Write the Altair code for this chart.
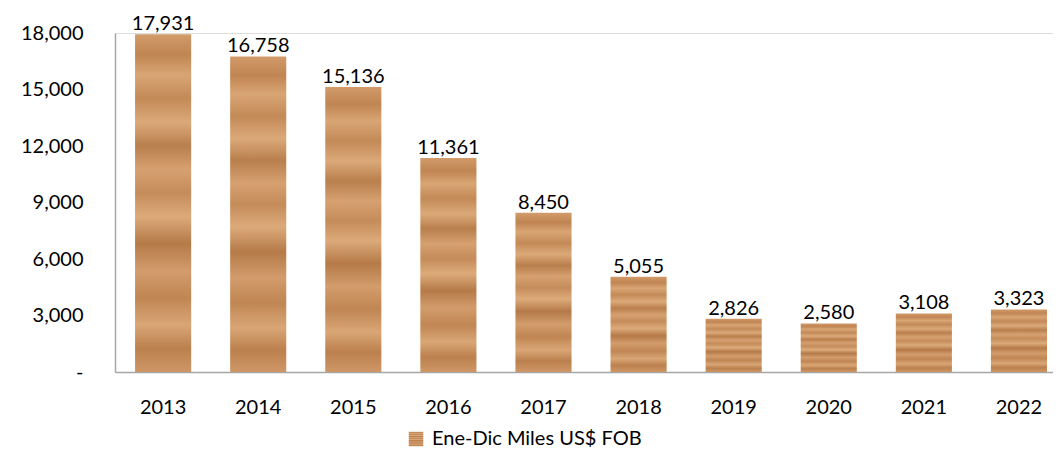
import altair as alt
import pandas as pd

years = ["2013", "2014", "2015", "2016", "2017", "2018", "2019", "2020", "2021", "2022"]
values = [17931, 16758, 15136, 11361, 8450, 5055, 2826, 2580, 3108, 3323]
series = "Ene-Dic Miles US$ FOB"
y_ticks = [0, 3000, 6000, 9000, 12000, 15000, 18000]

df = pd.DataFrame({"year": years, "value": values, "serie": series})

FONT = "Lato"

wood = alt.Gradient(
    gradient="linear",
    x1=0, x2=0, y1=0, y2=1,
    stops=[
        alt.GradientStop(color="#D29B6B", offset=0.0),
        alt.GradientStop(color="#C08552", offset=0.06),
        alt.GradientStop(color="#D8A574", offset=0.12),
        alt.GradientStop(color="#C38A57", offset=0.19),
        alt.GradientStop(color="#DBA979", offset=0.26),
        alt.GradientStop(color="#B97F4D", offset=0.33),
        alt.GradientStop(color="#D6A070", offset=0.40),
        alt.GradientStop(color="#C58C5A", offset=0.47),
        alt.GradientStop(color="#DCAA7A", offset=0.54),
        alt.GradientStop(color="#B57A48", offset=0.62),
        alt.GradientStop(color="#D39C6C", offset=0.70),
        alt.GradientStop(color="#C08653", offset=0.78),
        alt.GradientStop(color="#D9A676", offset=0.86),
        alt.GradientStop(color="#BB804D", offset=0.93),
        alt.GradientStop(color="#CF9767", offset=1.0),
    ],
)

base = alt.Chart(df)

bars = base.mark_bar(color=wood).encode(
    x=alt.X(
        "year:N",
        sort=years,
        title=None,
        scale=alt.Scale(paddingInner=0.41, paddingOuter=0.137, align=0.77),
        axis=alt.Axis(
            labelAngle=0,
            ticks=False,
            domainColor="#A6A6A6",
            domainWidth=1.5,
            labelFontSize=20,
            labelFont=FONT,
            labelColor="#000000",
            labelPadding=25,
        ),
    ),
    y=alt.Y(
        "value:Q",
        title=None,
        scale=alt.Scale(domain=[0, 18000], nice=False),
        axis=alt.Axis(
            values=y_ticks,
            grid=False,
            ticks=False,
            domainColor="#A6A6A6",
            domainWidth=1.5,
            labelFontSize=20,
            labelFont=FONT,
            labelColor="#000000",
            labelPadding=32,
            labelExpr="datum.value == 0 ? '-\u00a0\u00a0\u00a0\u00a0\u00a0' : format(datum.value, ',')",
        ),
    ),
    opacity=alt.Opacity(
        "serie:N",
        scale=alt.Scale(range=[1]),
        legend=alt.Legend(
            title=None,
            orient="none",
            legendX=291,
            legendY=396,
            symbolType="square",
            symbolSize=210,
            symbolStrokeWidth=0,
            symbolOpacity=1,
            labelFontSize=20,
            labelFont=FONT,
            labelColor="#000000",
            labelOffset=6,
            labelLimit=400,
        ),
    ),
)

labels = base.mark_text(
    baseline="alphabetic", dy=-4, fontSize=20, font=FONT, color="#000000"
).encode(
    x=alt.X("year:N", sort=years),
    y=alt.Y("value:Q"),
    text=alt.Text("value:Q", format=","),
)

chart = (
    alt.layer(bars, labels)
    .properties(
        width=938,
        height=339,
        autosize=alt.AutoSizeParams(type="none"),
        padding={"left": 107, "top": 25, "right": 0, "bottom": 79},
    )
    .configure_view(stroke=None)
    .configure(background="white")
)

chart.save("out.html", embed_options={"renderer": "svg", "actions": False})
